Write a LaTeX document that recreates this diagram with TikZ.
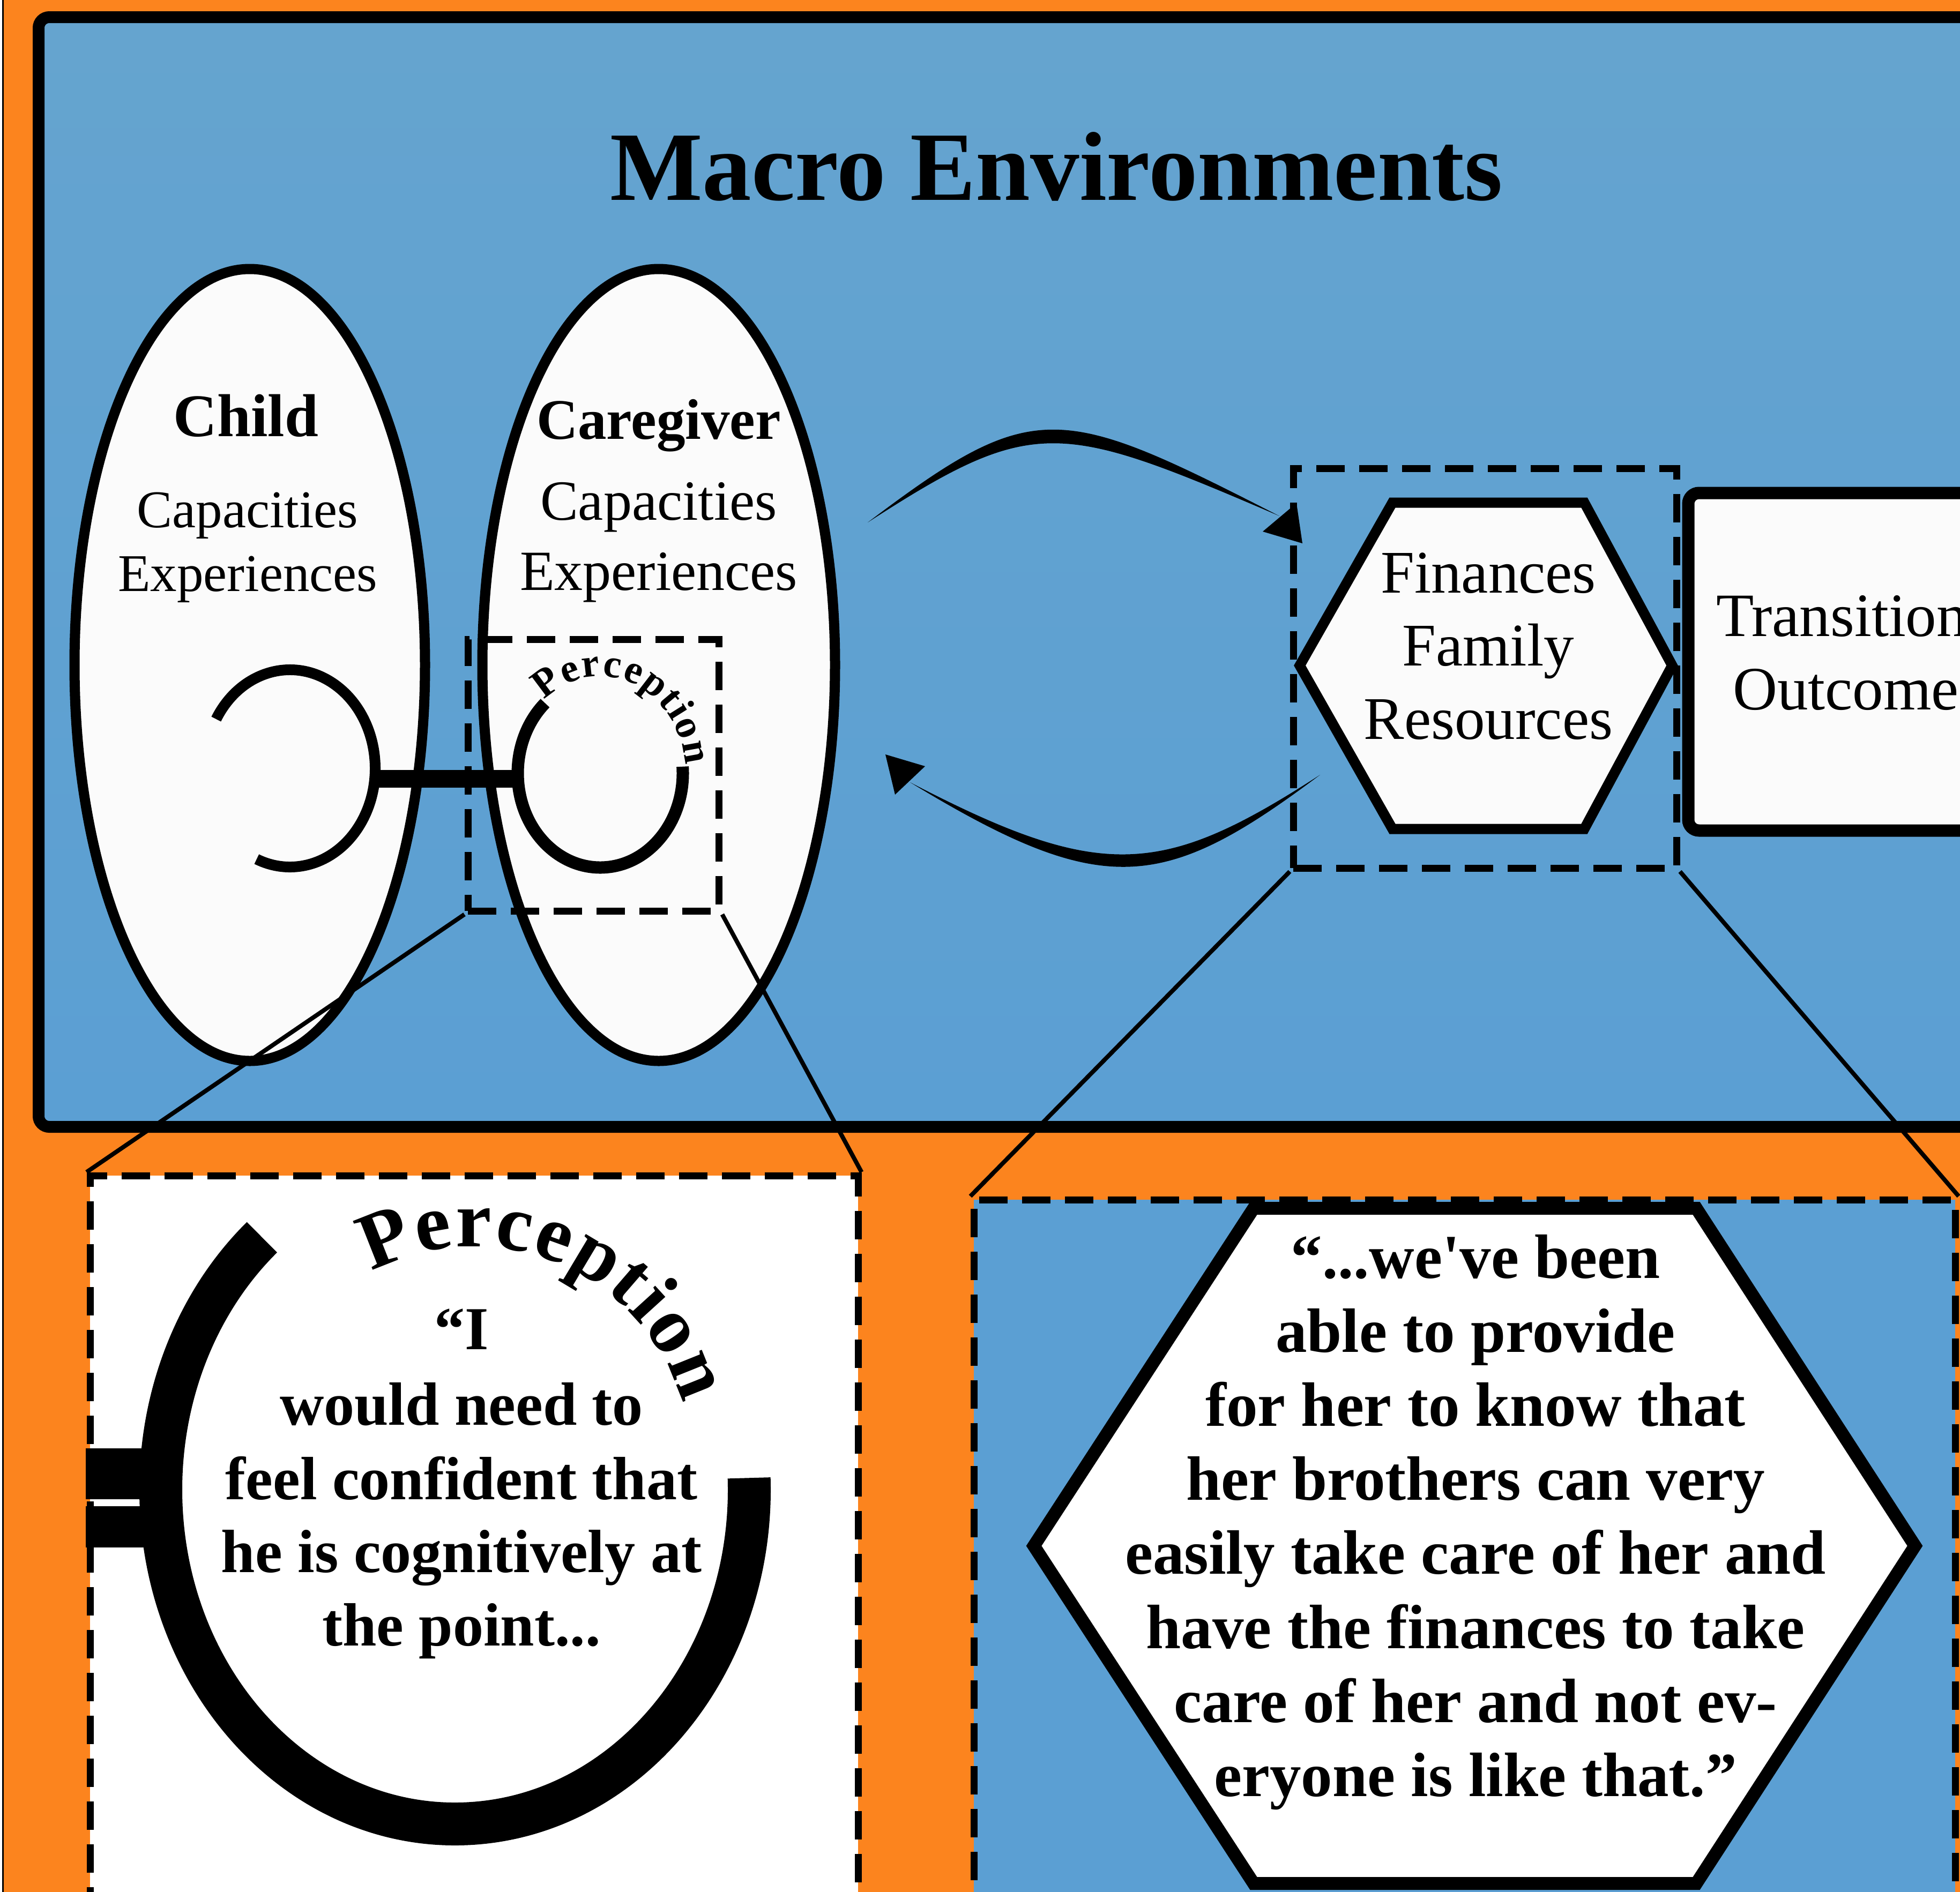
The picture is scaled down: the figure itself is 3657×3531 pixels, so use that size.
\documentclass[tikz,border=0pt]{standalone}
\usepackage{fontspec}
\setmainfont{Liberation Serif}
\newfontfamily\plainserif{Liberation Serif}
\usetikzlibrary{shapes.geometric,decorations.text}
\definecolor{orangebg}{RGB}{252,132,30}
\definecolor{bluebg}{RGB}{91,159,211}
\definecolor{bluetop}{RGB}{101,164,207}
\definecolor{offwhite}{RGB}{251,251,251}
\begin{document}
\begin{tikzpicture}[x=1pt,y=-1pt,
  dashedbox/.style={draw, line width=13pt, dash pattern=on 53pt off 27pt, inner sep=0pt},
  thinlink/.style={line width=8pt},
  reg/.style={anchor=base, inner sep=0pt},
  oval/.style={ellipse, draw, line width=19pt, fill=offwhite, inner sep=0pt, minimum width=654pt, minimum height=1478pt},
  quoteA/.style={anchor=base, inner sep=0pt, font=\plainserif\bfseries\fontsize{114}{138}\selectfont},
  quoteB/.style={anchor=base, inner sep=0pt, font=\plainserif\bfseries\fontsize{117}{138}\selectfont}
]
\useasboundingbox (0,0) rectangle (3657,3531);
\clip (0,0) rectangle (3657,3531);
\fill[orangebg] (0,0) rectangle (3657,3531);
\fill[white] (0,0) rectangle (4,3531);
\draw[line width=3pt] (5.5,0) -- (5.5,3531);

% macro panel
\shade[top color=bluetop, bottom color=bluebg, rounded corners=20pt] (72,32) rectangle (3760,2103);
\draw[line width=22pt, rounded corners=20pt] (72,32) rectangle (3760,2103);
\node[reg, font=\bfseries\fontsize{183}{183}\selectfont] (title) at (1971,373) {Macro Environments};

% child and caregiver
\node[oval] (child) at (466,1241) {};
\node[oval, minimum width=658pt] (care) at (1229,1241) {};
\node[reg, font=\bfseries\fontsize{113}{113}\selectfont] (childT) at (459,814) {Child};
\node[reg, font=\fontsize{99}{99}\selectfont] (childC) at (462,984) {Capacities};
\node[reg, font=\fontsize{99}{99}\selectfont] (childE) at (462,1103) {Experiences};
\node[reg, font=\bfseries\fontsize{107}{107}\selectfont] (careT) at (1229,819) {Caregiver};
\node[reg, font=\fontsize{106}{106}\selectfont] (careC) at (1229,970) {Capacities};
\node[reg, font=\fontsize{106}{106}\selectfont] (careE) at (1229,1101) {Experiences};

% small zoom box
\node[dashedbox, minimum width=468pt, minimum height=507pt] (zoomA) at (1107,1446.5) {};

% child socket arc, bar, caregiver ball arc
\draw[line width=20pt] (541,1434) ++(-150:159 and 184) arc[start angle=-150, end angle=113, x radius=159, y radius=184];
\coordinate (barL) at (700,1453);
\coordinate (barR) at (968,1453);
\draw[line width=33pt] (barL) -- (barR);
\draw[line width=23pt] (1120,1443) ++(-4:154 and 176) arc[start angle=-4, end angle=228, x radius=154, y radius=176];
\path[decorate, decoration={text along path, text align={fit to path},
   text={|\bfseries\fontsize{75}{75}\selectfont|Perception}}]
   (1015.7,1306.4) arc[start angle=-131, end angle=-5, x radius=159, y radius=181];

% finance hexagon and its zoom box
\node[dashedbox, minimum width=715pt, minimum height=746pt] (zoomB) at (2770.5,1247) {};
\coordinate (h1) at (2598,938);
\coordinate (h2) at (2956,938);
\coordinate (h3) at (3120,1242);
\coordinate (h4) at (2956,1547);
\coordinate (h5) at (2598,1547);
\coordinate (h6) at (2425,1242);
\draw[line width=19pt, fill=offwhite, line join=miter] (h1) -- (h2) -- (h3) -- (h4) -- (h5) -- (h6) -- cycle;
\node[reg, font=\fontsize{113}{113}\selectfont] (finA) at (2777,1106) {Finances};
\node[reg, font=\fontsize{113}{113}\selectfont] (finB) at (2777,1242) {Family};
\node[reg, font=\fontsize{113}{113}\selectfont] (finC) at (2777,1379) {Resources};

% transition box
\node[draw, line width=23pt, fill=offwhite, rounded corners=20pt, minimum width=650pt, minimum height=630pt, inner sep=0pt] (trans) at (3475,1235) {};
\node[anchor=base west, inner sep=0pt, font=\fontsize{115}{115}\selectfont] (transA) at (3202,1187) {Transition};
\node[anchor=base west, inner sep=0pt, font=\fontsize{115}{115}\selectfont] (transB) at (3233,1324) {Outcome};

% tapered arrows
\coordinate (ua0) at (1619,975);
\coordinate (ua1) at (2387,963);
\fill (ua0) .. controls (1930,740) and (1975,752) .. (ua1) .. controls (1975,786) and (1930,774) .. (ua0) -- cycle;
\fill (2356,992) -- (2419,939) -- (2430,1014) -- cycle;
\coordinate (la0) at (2463,1446);
\coordinate (la1) at (1698,1460);
\fill (la0) .. controls (2169,1667) and (2057,1678) .. (la1) .. controls (2057,1647) and (2169,1636) .. (la0) -- cycle;
\fill (1652,1408) -- (1726,1430) -- (1670,1483) -- cycle;

% bottom panels
\node[dashedbox, fill=white, minimum width=1433pt, minimum height=1406pt] (panelA) at (884.5,2897) {};
\node[dashedbox, fill=bluebg, minimum width=1831pt, minimum height=1361pt] (panelB) at (2732.5,2919.5) {};

% connectors
\draw[thinlink] (zoomA.south west) -- (panelA.north west);
\draw[thinlink] (zoomA.south east) -- (panelA.north east);
\draw[thinlink] (zoomB.south west) -- (panelB.north west);
\draw[thinlink] (zoomB.south east) -- (panelB.north east);

% enlarged perception
\draw[line width=80pt] (849,2780) ++(-2:549 and 624) arc[start angle=-2, end angle=229, x radius=549, y radius=624];
\fill (160,2703) rectangle (337,2798);
\fill (160,2811) rectangle (330,2888);
\path[decorate, decoration={text along path, text align={fit to path},
   text={|\bfseries\fontsize{150}{150}\selectfont|Perception}}]
   (693.9,2373.4) arc[start angle=-118, end angle=-16, radius=405];
\node[quoteA] (qa1) at (861,2518) {“I};
\node[quoteA] (qa2) at (861,2659) {would need to};
\node[quoteA] (qa3) at (861,2798) {feel confident that};
\node[quoteA] (qa4) at (861,2934) {he is cognitively at};
\node[quoteA] (qa5) at (861,3071) {the point...};

% enlarged finance hexagon
\coordinate (q1) at (2339,2255);
\coordinate (q2) at (3165,2255);
\coordinate (q3) at (3573,2885);
\coordinate (q4) at (3165,3515);
\coordinate (q5) at (2339,3515);
\coordinate (q6) at (1929,2885);
\draw[line width=24pt, fill=white, line join=miter] (q1) -- (q2) -- (q3) -- (q4) -- (q5) -- (q6) -- cycle;
\node[quoteB] (qb1) at (2753,2385) {“...we've been};
\node[quoteB] (qb2) at (2753,2523) {able to provide};
\node[quoteB] (qb3) at (2753,2661) {for her to know that};
\node[quoteB] (qb4) at (2753,2799) {her brothers can very};
\node[quoteB] (qb5) at (2753,2937) {easily take care of her and};
\node[quoteB] (qb6) at (2753,3076) {have the finances to take};
\node[quoteB] (qb7) at (2753,3214) {care of her and not ev-};
\node[quoteB] (qb8) at (2753,3352) {eryone is like that.”};
\end{tikzpicture}
\end{document}
